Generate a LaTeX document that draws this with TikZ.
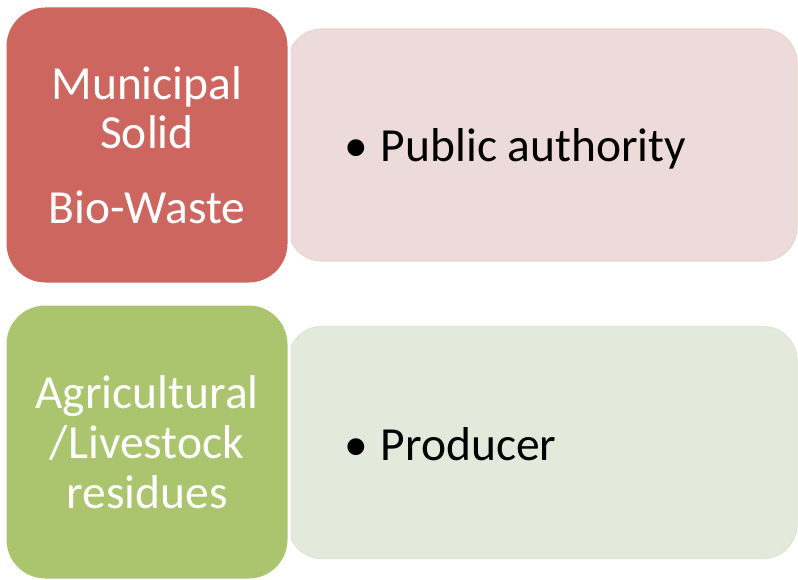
\documentclass[tikz,border=0pt]{standalone}
\usepackage{fontspec}
\setmainfont{Carlito}
\definecolor{wasteRed}{HTML}{CD665F}
\definecolor{wasteRedLight}{HTML}{EDDBDB}
\definecolor{wasteRedLine}{HTML}{EAD4D4}
\definecolor{residueGreen}{HTML}{ABC46E}
\definecolor{residueGreenLight}{HTML}{E3E9DB}
\definecolor{residueGreenLine}{HTML}{DFE6D6}
\begin{document}
\begin{tikzpicture}[
	x=1pt, y=-1pt,
	source/.style={
		rectangle,
		draw=white,
		line width=3pt,
		align=center,
		rounded corners=40pt,
		text=white,
		font=\fontsize{47.5}{49}\selectfont,
		minimum width=284pt,
		minimum height=278pt
	},
	panel/.style={
		rectangle,
		line width=1.2pt,
		rounded corners=34pt,
		minimum width=509pt,
		minimum height=232pt
	},
	item/.style={
		anchor=base west,
		inner sep=0pt,
		text=black,
		font=\fontsize{47.5}{49}\selectfont
	},
]
\useasboundingbox (0,0) rectangle (798,580);

% Panels
\node[panel,fill=wasteRedLight,draw=wasteRedLine] (pubpanel) at (542.5,145) {};
\node[panel,fill=residueGreenLight,draw=residueGreenLine] (prodpanel) at (542.5,442.5) {};

% Sources
\node[source,fill=wasteRed] (muni) at (147,145) {Municipal\\Solid\\[26pt]Bio-Waste};
\node[source,fill=residueGreen,minimum height=276pt,font=\fontsize{47.5}{50}\selectfont] (agri) at (147,442) {Agricultural\\/Livestock\\residues};

% Items
\node[item] (pub) at (344,162) {•\hspace{13pt}Public authority};
\node[item] (prod) at (344,460) {•\hspace{13pt}Producer};

\end{tikzpicture}
\end{document}
